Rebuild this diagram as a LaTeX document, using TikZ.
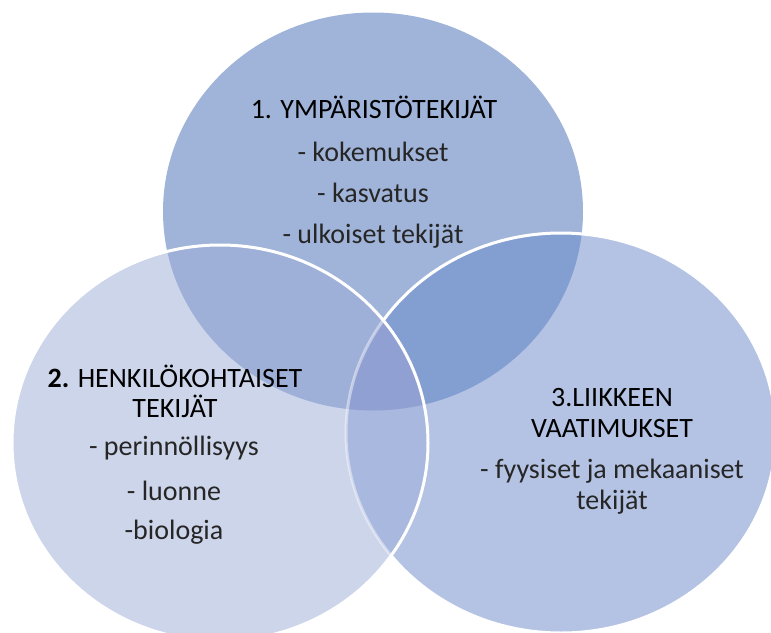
\documentclass[tikz,border=0pt]{standalone}
\usepackage{fontspec}
\setmainfont{Carlito}
\definecolor{colTop}{HTML}{A0B4DA}
\definecolor{colRight}{HTML}{B4C3E4}
\definecolor{colLeft}{HTML}{CDD5EA}
\definecolor{colTR}{HTML}{839ED0}
\definecolor{colTL}{HTML}{9EB0D8}
\definecolor{colLR}{HTML}{A9B8DE}
\definecolor{colTLR}{HTML}{91A0D2}
\definecolor{bodytext}{HTML}{262626}
\tikzset{
  heading/.style={font=\fontsize{28}{33}\selectfont, text=black, inner sep=0pt, anchor=center},
  bodyline/.style={font=\fontsize{28}{33}\selectfont, text=bodytext, inner sep=0pt, anchor=center},
  ringline/.style={draw=white, line width=3pt}
}
\begin{document}
\begin{tikzpicture}[x=1pt,y=-1pt]
\useasboundingbox (0,0) rectangle (771,632);
\clip (0,0) rectangle (771,632);
\def\topC{(373,211.5) ellipse [x radius=210pt, y radius=199pt]}
\def\leftC{(220,443) ellipse [x radius=208pt, y radius=198pt]}
\def\rightC{(561,433) ellipse [x radius=215pt, y radius=200pt]}
% top circle
\fill[colTop] \topC;
% right circle
\fill[colRight] \rightC;
\begin{scope}
  \clip \rightC;
  \fill[colTR] \topC;
\end{scope}
\path[ringline] \rightC;
% left circle
\fill[colLeft] \leftC;
\begin{scope}
  \clip \leftC;
  \fill[colTL] \topC;
  \fill[colLR] \rightC;
  \begin{scope}
    \clip \rightC;
    \fill[colTLR] \topC;
  \end{scope}
  \draw[white, line width=3pt, opacity=0.45] \rightC;
\end{scope}
\path[ringline] \leftC;
% texts
\node[heading] (h1) at (374,107) {1. YMPÄRISTÖTEKIJÄT};
\node[bodyline] (t1a) at (373,152) {- kokemukset};
\node[bodyline] (t1b) at (373,193) {- kasvatus};
\node[bodyline] (t1c) at (373,236) {- ulkoiset tekijät};
\node[heading] (h2a) at (175,376) {\textbf{2.} HENKILÖKOHTAISET};
\node[heading] (h2b) at (175,406) {TEKIJÄT};
\node[bodyline] (t2a) at (174,448) {- perinnöllisyys};
\node[bodyline] (t2b) at (174,491) {- luonne};
\node[bodyline] (t2c) at (174,532) {-biologia};
\node[heading] (h3a) at (612,398) {3.LIIKKEEN};
\node[heading] (h3b) at (612,429) {VAATIMUKSET};
\node[bodyline] (t3a) at (612,471) {- fyysiset ja mekaaniset};
\node[bodyline] (t3b) at (612,502) {tekijät};
\end{tikzpicture}
\end{document}
